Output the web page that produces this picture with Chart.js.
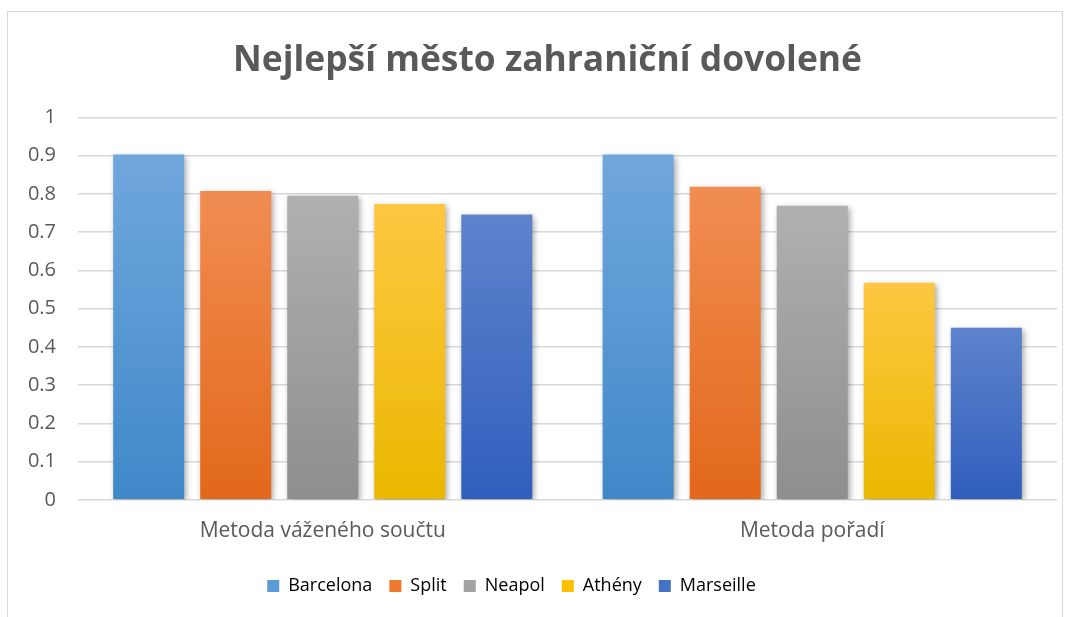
<!DOCTYPE html>
<html>
<head>
<meta charset="utf-8">
<script src="https://cdn.jsdelivr.net/npm/chart.js@4.4.1/dist/chart.umd.min.js"></script>
<style>
  html, body { margin: 0; padding: 0; background: #fff; }
  #wrap { position: relative; width: 1075px; height: 617px; }
  #frame { position: absolute; left: 7px; top: 11px; width: 1056px; height: 620px; border: 1px solid #d9d9d9; box-sizing: border-box; }
  canvas { position: absolute; left: 0; top: 0; }
</style>
</head>
<body>
<div id="wrap">
  <div id="frame"></div>
  <canvas id="chart" width="1075" height="617"></canvas>
</div>
<script>
// data
const categories = ["Metoda váženého součtu", "Metoda pořadí"];
const cities = ["Barcelona", "Split", "Neapol", "Athény", "Marseille"];
const barcelona = [0.903, 0.903];
const split = [0.808, 0.819];
const neapol = [0.795, 0.769];
const atheny = [0.774, 0.568];
const marseille = [0.746, 0.450];
const yTicks = [0, 0.1, 0.2, 0.3, 0.4, 0.5, 0.6, 0.7, 0.8, 0.9, 1];

// top / bottom colours of the gradient fill
const colorsTop = ["#70a7dd", "#f18d52", "#b0b0b0", "#ffc742", "#5f83cc"];
const colorsBottom = ["#3f88c8", "#e2681a", "#8e8e8e", "#eab800", "#2f5fbd"];
const colorsMid = ["#5a9ad5", "#ee7a30", "#a3a3a3", "#fdc000", "#4472c4"];

const seriesValues = [barcelona, split, neapol, atheny, marseille];

Chart.defaults.font.family = "'Open Sans'";
Chart.defaults.color = "#595959";

function barGradient(i) {
  return (ctx) => {
    const chart = ctx.chart;
    if (!chart.chartArea || ctx.type !== "data") return colorsMid[i];
    const y = chart.scales.y;
    const top = y.getPixelForValue(ctx.raw);
    const bottom = y.getPixelForValue(0);
    if (!isFinite(top) || !isFinite(bottom) || top === bottom) return colorsMid[i];
    const g = chart.ctx.createLinearGradient(0, top, 0, bottom);
    g.addColorStop(0, colorsTop[i]);
    g.addColorStop(1, colorsBottom[i]);
    return g;
  };
}

// soft shadow behind the bars, like the office chart
const barShadow = {
  id: "barShadow",
  beforeDatasetsDraw(chart) {
    const c = chart.ctx;
    c.save();
    c.shadowColor = "rgba(0,0,0,0.35)";
    c.shadowBlur = 6;
    c.shadowOffsetX = 2;
    c.shadowOffsetY = 2;
  },
  afterDatasetsDraw(chart) {
    chart.ctx.restore();
  }
};

// legend sits a bit left of centre, title a bit right of it in the original
const blockShift = {
  id: "blockShift",
  afterLayout(chart) {
    if (chart.legend) {
      chart.legend.left -= 21;
      chart.legend.right -= 21;
    }
    if (chart.titleBlock) {
      chart.titleBlock.left += 15;
      chart.titleBlock.right += 15;
    }
  }
};

new Chart(document.getElementById("chart"), {
  type: "bar",
  data: {
    labels: categories,
    datasets: cities.map((name, i) => ({
      label: name,
      data: seriesValues[i],
      backgroundColor: barGradient(i),
      borderWidth: 0,
      categoryPercentage: 0.889,
      barPercentage: 0.816
    }))
  },
  options: {
    responsive: false,
    animation: false,
    layout: { padding: { left: 8, right: 18, top: 22, bottom: 12 } },
    plugins: {
      title: {
        display: true,
        text: "Nejlepší město zahraniční dovolené",
        color: "#595959",
        font: { size: 35.4, weight: "bold" },
        padding: { top: 18, bottom: 35 }
      },
      legend: {
        position: "bottom",
        labels: {
          boxWidth: 12,
          boxHeight: 12,
          padding: 17,
          font: { size: 18 },
          color: "#595959",
          generateLabels: (chart) => cities.map((name, i) => ({
            text: name,
            fillStyle: colorsMid[i],
            strokeStyle: colorsMid[i],
            lineWidth: 0,
            datasetIndex: i
          }))
        }
      },
      tooltip: { enabled: false }
    },
    scales: {
      x: {
        grid: { display: false },
        border: { display: false },
        afterFit: (scale) => { scale.height += 5; },
        ticks: { font: { size: 21 }, color: "#595959", padding: 11 }
      },
      y: {
        min: 0,
        max: 1,
        afterBuildTicks: (scale) => { scale.ticks = yTicks.map(v => ({ value: v })); },
        afterFit: (scale) => { scale.width = 70; },
        grid: { color: "#d9d9d9", lineWidth: 1.5, drawTicks: false },
        border: { display: false },
        ticks: { font: { size: 20 }, color: "#595959", padding: 22, callback: (v) => String(v) }
      }
    }
  },
  plugins: [barShadow, blockShift]
});
</script>
</body>
</html>
